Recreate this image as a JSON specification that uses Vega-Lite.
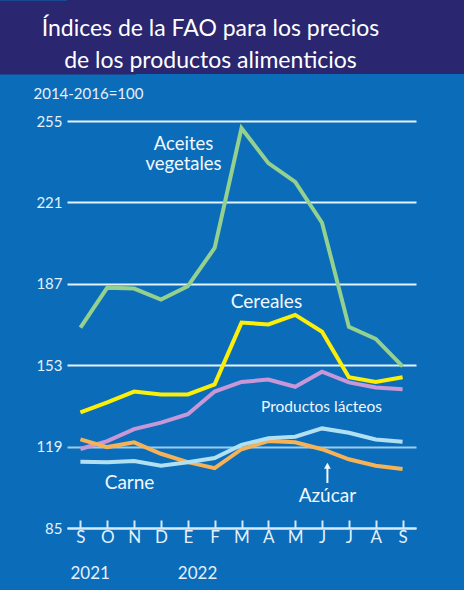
{
  "$schema": "https://vega.github.io/schema/vega-lite/v6.json",
  "background": "#0b6cb9",
  "padding": {"left": 0, "top": 0, "right": 0, "bottom": 8},
  "spacing": 12,
  "config": {
    "view": {"stroke": null},
    "font": "Lato",
    "text": {"font": "Lato"}
  },
  "vconcat": [
    {
      "width": 397,
      "height": 74,
      "view": {"fill": "#2a2670", "stroke": null},
      "data": {"values": [
        {"t": ["Índices de la FAO para los precios", "de los productos alimenticios"]}
      ]},
      "mark": {"type": "text", "color": "#ffffff", "fontSize": 23, "lineHeight": 32, "baseline": "alphabetic", "align": "center", "dx": -55, "dy": -1},
      "encoding": {
        "y": {
          "datum": 0, "type": "quantitative",
          "scale": {"domain": [-37, 37], "nice": false, "zero": false},
          "axis": {
            "title": null, "labels": false, "ticks": false, "grid": false,
            "domainColor": "#2a2670", "domainWidth": 136, "domainCap": "butt",
            "offset": 0, "minExtent": 67, "maxExtent": 67
          }
        },
        "text": {"field": "t", "type": "nominal"}
      }
    },
    {
      "width": 349,
      "height": 407,
      "layer": [
        {
          "data": {"values": [
            {"i": 0, "serie": "Aceites vegetales", "v": 168.7},
            {"i": 1, "serie": "Aceites vegetales", "v": 185.4},
            {"i": 2, "serie": "Aceites vegetales", "v": 185.0},
            {"i": 3, "serie": "Aceites vegetales", "v": 180.4},
            {"i": 4, "serie": "Aceites vegetales", "v": 186.0},
            {"i": 5, "serie": "Aceites vegetales", "v": 202.0},
            {"i": 6, "serie": "Aceites vegetales", "v": 252.0},
            {"i": 7, "serie": "Aceites vegetales", "v": 237.4},
            {"i": 8, "serie": "Aceites vegetales", "v": 229.6},
            {"i": 9, "serie": "Aceites vegetales", "v": 212.5},
            {"i": 10, "serie": "Aceites vegetales", "v": 169.0},
            {"i": 11, "serie": "Aceites vegetales", "v": 164.0},
            {"i": 12, "serie": "Aceites vegetales", "v": 152.5},
            {"i": 0, "serie": "Cereales", "v": 133.3},
            {"i": 1, "serie": "Cereales", "v": 137.5},
            {"i": 2, "serie": "Cereales", "v": 142.0},
            {"i": 3, "serie": "Cereales", "v": 140.8},
            {"i": 4, "serie": "Cereales", "v": 140.8},
            {"i": 5, "serie": "Cereales", "v": 145.0},
            {"i": 6, "serie": "Cereales", "v": 170.8},
            {"i": 7, "serie": "Cereales", "v": 170.0},
            {"i": 8, "serie": "Cereales", "v": 174.0},
            {"i": 9, "serie": "Cereales", "v": 167.0},
            {"i": 10, "serie": "Cereales", "v": 148.0},
            {"i": 11, "serie": "Cereales", "v": 146.0},
            {"i": 12, "serie": "Cereales", "v": 148.0},
            {"i": 0, "serie": "Productos lácteos", "v": 118.0},
            {"i": 1, "serie": "Productos lácteos", "v": 121.3},
            {"i": 2, "serie": "Productos lácteos", "v": 126.3},
            {"i": 3, "serie": "Productos lácteos", "v": 129.0},
            {"i": 4, "serie": "Productos lácteos", "v": 132.5},
            {"i": 5, "serie": "Productos lácteos", "v": 142.0},
            {"i": 6, "serie": "Productos lácteos", "v": 146.0},
            {"i": 7, "serie": "Productos lácteos", "v": 147.0},
            {"i": 8, "serie": "Productos lácteos", "v": 144.0},
            {"i": 9, "serie": "Productos lácteos", "v": 150.3},
            {"i": 10, "serie": "Productos lácteos", "v": 145.8},
            {"i": 11, "serie": "Productos lácteos", "v": 143.7},
            {"i": 12, "serie": "Productos lácteos", "v": 143.0},
            {"i": 0, "serie": "Azúcar", "v": 122.0},
            {"i": 1, "serie": "Azúcar", "v": 118.8},
            {"i": 2, "serie": "Azúcar", "v": 120.8},
            {"i": 3, "serie": "Azúcar", "v": 116.0},
            {"i": 4, "serie": "Azúcar", "v": 112.5},
            {"i": 5, "serie": "Azúcar", "v": 110.0},
            {"i": 6, "serie": "Azúcar", "v": 117.9},
            {"i": 7, "serie": "Azúcar", "v": 121.3},
            {"i": 8, "serie": "Azúcar", "v": 120.8},
            {"i": 9, "serie": "Azúcar", "v": 117.9},
            {"i": 10, "serie": "Azúcar", "v": 113.7},
            {"i": 11, "serie": "Azúcar", "v": 111.0},
            {"i": 12, "serie": "Azúcar", "v": 109.6},
            {"i": 0, "serie": "Carne", "v": 112.7},
            {"i": 1, "serie": "Carne", "v": 112.5},
            {"i": 2, "serie": "Carne", "v": 113.0},
            {"i": 3, "serie": "Carne", "v": 111.0},
            {"i": 4, "serie": "Carne", "v": 112.5},
            {"i": 5, "serie": "Carne", "v": 114.2},
            {"i": 6, "serie": "Carne", "v": 119.7},
            {"i": 7, "serie": "Carne", "v": 122.5},
            {"i": 8, "serie": "Carne", "v": 123.1},
            {"i": 9, "serie": "Carne", "v": 126.6},
            {"i": 10, "serie": "Carne", "v": 124.8},
            {"i": 11, "serie": "Carne", "v": 122.0},
            {"i": 12, "serie": "Carne", "v": 121.0}
          ]},
          "mark": {"type": "line", "strokeWidth": 4, "strokeJoin": "miter", "strokeCap": "butt"},
          "encoding": {
            "x": {
              "field": "i", "type": "quantitative",
              "scale": {"domain": [-0.5, 12.5], "nice": false, "zero": false},
              "axis": {
                "values": [0, 1, 2, 3, 4, 5, 6, 7, 8, 9, 10, 11, 12],
                "tickCount": 20,
                "labelExpr": "substring('SONDEFMAMJJAS', datum.value, datum.value + 1)",
                "title": null,
                "grid": false,
                "domainColor": "#d4eaf9",
                "domainWidth": 2,
                "tickColor": "#d4eaf9",
                "tickWidth": 2,
                "tickSize": -8,
                "labelColor": "#e4f1fb",
                "labelFontSize": 17,
                "labelPadding": 9,
                "labelFlush": false,
                "labelOverlap": false
              }
            },
            "y": {
              "field": "v", "type": "quantitative",
              "scale": {"domain": [85, 255], "nice": false, "zero": false},
              "axis": {
                "values": [85, 119, 153, 187, 221, 255],
                "tickCount": 10,
                "domain": false,
                "ticks": false,
                "gridColor": {"condition": {"test": "datum.value === 119", "value": "#9ccdf0"}, "value": "#e4f2fb"},
                "gridWidth": 2,
                "gridOpacity": 1,
                "labelColor": "#e4f1fb",
                "labelFontSize": 15,
                "labelPadding": 5,
                "labelOverlap": false,
                "title": "2014-2016=100",
                "titleAngle": 0,
                "titleAlign": "left",
                "titleBaseline": "middle",
                "titleX": -34,
                "titleY": -28,
                "titleFontSize": 15,
                "titleFontWeight": "normal",
                "titleColor": "#e4f1fb",
                "minExtent": 67,
                "maxExtent": 67
              }
            },
            "color": {
              "field": "serie", "type": "nominal", "legend": null,
              "scale": {
                "domain": ["Aceites vegetales", "Cereales", "Productos lácteos", "Azúcar", "Carne"],
                "range": ["#94d08e", "#fbef0a", "#c797d7", "#f6b257", "#b2e0f3"]
              }
            }
          }
        },
        {
          "data": {"values": [
            {"i": 3.84, "v": 245.4, "t": ["Aceites", "vegetales"]}
          ]},
          "mark": {"type": "text", "color": "#f2f8fd", "fontSize": 18.5, "lineHeight": 20, "baseline": "middle", "align": "center"},
          "encoding": {
            "x": {"field": "i", "type": "quantitative"},
            "y": {"field": "v", "type": "quantitative"},
            "text": {"field": "t", "type": "nominal"}
          }
        },
        {
          "data": {"values": [
            {"i": 6.93, "v": 179.4, "t": "Cereales"},
            {"i": 1.83, "v": 103.8, "t": "Carne"},
            {"i": 9.2, "v": 98.4, "t": "Azúcar"}
          ]},
          "mark": {"type": "text", "color": "#f2f8fd", "fontSize": 19, "baseline": "middle", "align": "center"},
          "encoding": {
            "x": {"field": "i", "type": "quantitative"},
            "y": {"field": "v", "type": "quantitative"},
            "text": {"field": "t", "type": "nominal"}
          }
        },
        {
          "data": {"values": [
            {"i": 8.98, "v": 135.5, "t": "Productos lácteos"}
          ]},
          "mark": {"type": "text", "color": "#f2f8fd", "fontSize": 15.5, "baseline": "middle", "align": "center"},
          "encoding": {
            "x": {"field": "i", "type": "quantitative"},
            "y": {"field": "v", "type": "quantitative"},
            "text": {"field": "t", "type": "nominal"}
          }
        },
        {
          "data": {"values": [{"i": 9.2, "v1": 103.8, "v2": 110.5}]},
          "mark": {"type": "rule", "color": "#f2f8fd", "strokeWidth": 2},
          "encoding": {
            "x": {"field": "i", "type": "quantitative"},
            "y": {"field": "v1", "type": "quantitative"},
            "y2": {"field": "v2"}
          }
        },
        {
          "data": {"values": [{"i": 9.2, "v": 111.0}]},
          "mark": {"type": "point", "shape": "triangle-up", "filled": true, "color": "#f2f8fd", "size": 45, "opacity": 1},
          "encoding": {
            "x": {"field": "i", "type": "quantitative"},
            "y": {"field": "v", "type": "quantitative"}
          }
        },
        {
          "data": {"values": [
            {"i": 0, "t": "2021"},
            {"i": 4, "t": "2022"}
          ]},
          "mark": {"type": "text", "color": "#e4f1fb", "fontSize": 17, "baseline": "middle", "align": "left", "dx": -10, "dy": 46},
          "encoding": {
            "x": {"field": "i", "type": "quantitative"},
            "y": {"datum": 85, "type": "quantitative"},
            "text": {"field": "t", "type": "nominal"}
          }
        }
      ]
    }
  ]
}
